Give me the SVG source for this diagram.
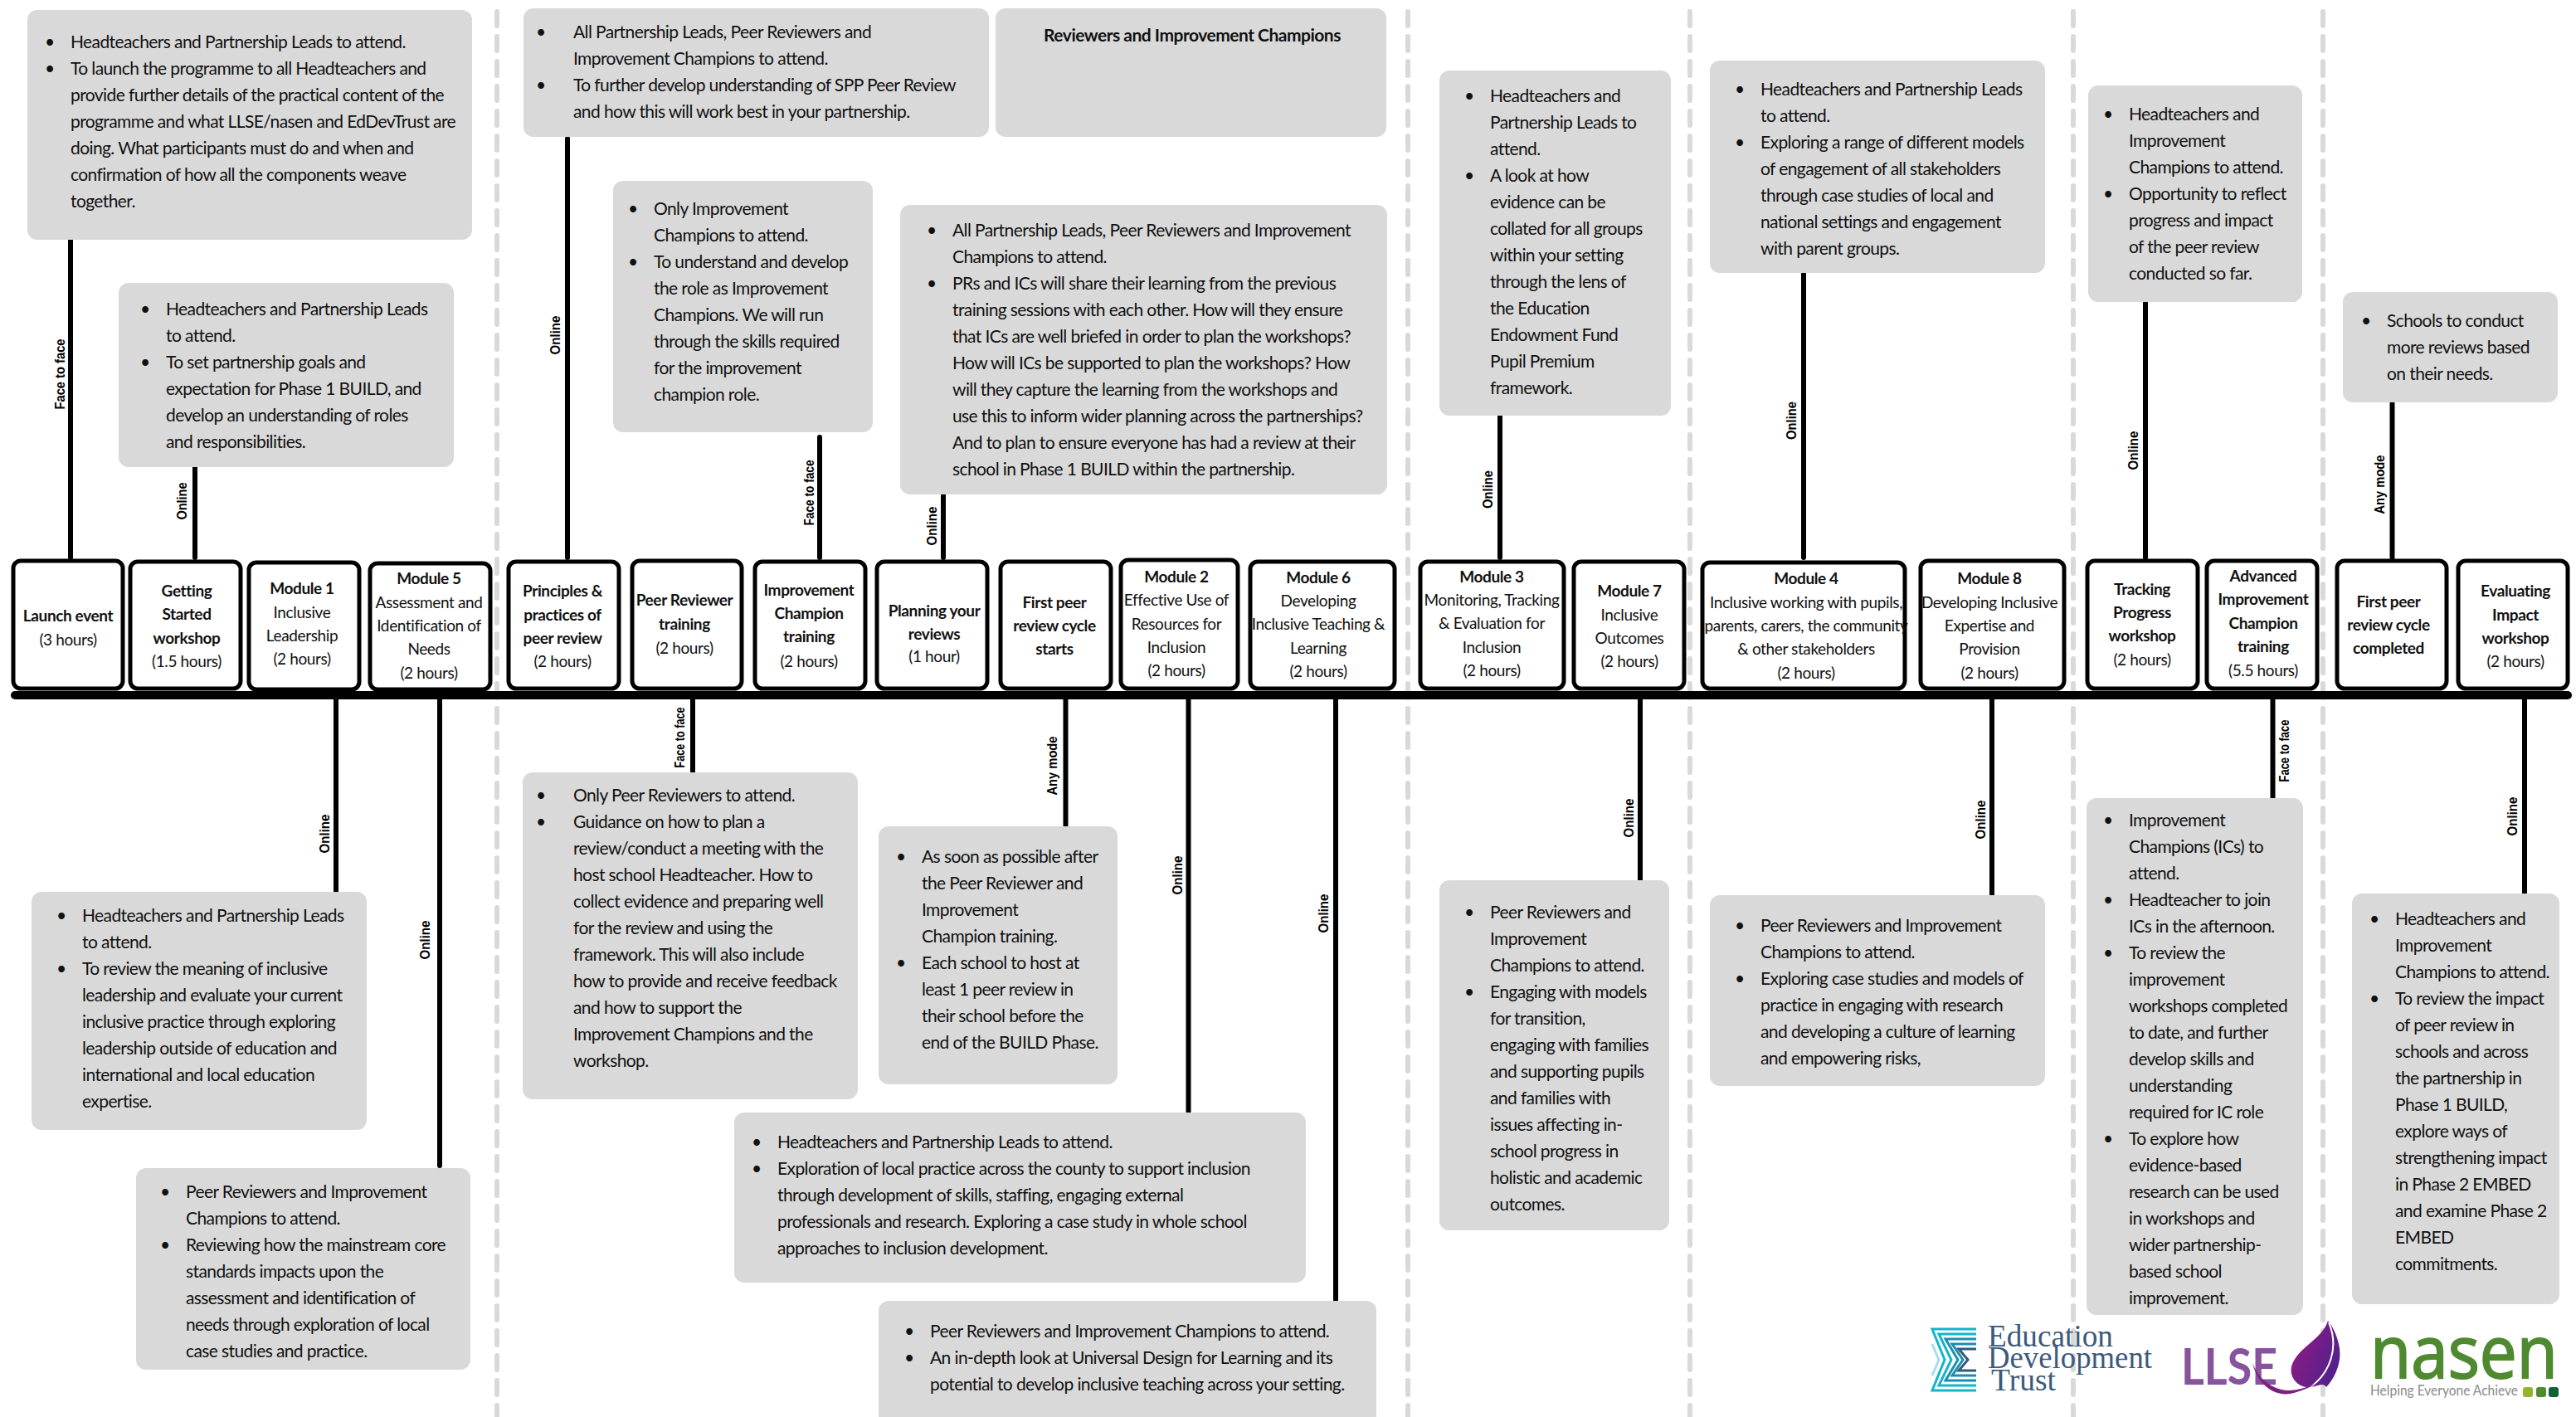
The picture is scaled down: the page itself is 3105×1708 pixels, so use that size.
<svg xmlns="http://www.w3.org/2000/svg" width="3105" height="1708" viewBox="0 0 3105 1708">
<style>
text{font-family:Lato,"Open Sans","Liberation Sans",sans-serif;fill:#111}
.g{fill:#d9d9d9}
.t{font-size:21px;letter-spacing:-.6px;transform:translateY(.5px)}
.u{font-size:21px;text-anchor:middle;transform:translateY(.5px)}
.n{fill:#fff;stroke:#000;stroke-width:5}
.l{font-size:19px;letter-spacing:-.38px;text-anchor:middle;transform:translateY(.5px)}
.h{font-weight:700}
.m{font-family:"Liberation Sans",sans-serif;font-weight:700;font-size:17px;text-anchor:middle;fill:#000}
.c{stroke:#000;stroke-width:6;fill:none;stroke-linecap:round}
.d{stroke:#d9d9d9;stroke-width:6;fill:none;stroke-linecap:round;stroke-dasharray:17 13}
</style>
<defs>
<linearGradient id="leaf" x1="0" y1="0" x2="1" y2="0.6"><stop offset="0" stop-color="#9a1c80"/><stop offset="1" stop-color="#53208c"/></linearGradient>
</defs>
<g id="separators">
<path class="d" d="M599 14V1708"/><path class="d" d="M1697 14V1708"/><path class="d" d="M2037 14V1708"/><path class="d" d="M2499 14V1708"/><path class="d" d="M2800 14V1708"/>
</g>
<g id="connectors">
<path class="c" style="stroke-width:10" d="M18 838H3095"/>
<path class="c" d="M85 289V672M235 563V672M684 167V672M988 527V672M1137 597V672M1808 502V672M2174 330V672M2586 365V672M2883.5 486V672"/>
<path class="c" d="M405 843V1077M530 843V1405M835 843V930M1284.500 843V995M1432.500 843V1340M1610 843V1567M1977 843V1062M2401 843V1078M2739.500 843V962M3043 843V1078"/>
</g>
<g id="connector-labels">
<text class="m" textLength="85" lengthAdjust="spacingAndGlyphs" transform="translate(78 451) rotate(-90)">Face to face</text>
<text class="m" textLength="45" lengthAdjust="spacingAndGlyphs" transform="translate(225 604) rotate(-90)">Online</text>
<text class="m" textLength="47" lengthAdjust="spacingAndGlyphs" transform="translate(675 404) rotate(-90)">Online</text>
<text class="m" textLength="79" lengthAdjust="spacingAndGlyphs" transform="translate(981 594) rotate(-90)">Face to face</text>
<text class="m" textLength="47" lengthAdjust="spacingAndGlyphs" transform="translate(1129 634) rotate(-90)">Online</text>
<text class="m" textLength="46" lengthAdjust="spacingAndGlyphs" transform="translate(1799 590) rotate(-90)">Online</text>
<text class="m" textLength="46" lengthAdjust="spacingAndGlyphs" transform="translate(2165 507) rotate(-90)">Online</text>
<text class="m" textLength="47" lengthAdjust="spacingAndGlyphs" transform="translate(2577 543) rotate(-90)">Online</text>
<text class="m" textLength="71" lengthAdjust="spacingAndGlyphs" transform="translate(2874 584) rotate(-90)">Any mode</text>
<text class="m" textLength="47" lengthAdjust="spacingAndGlyphs" transform="translate(397 1005) rotate(-90)">Online</text>
<text class="m" textLength="47" lengthAdjust="spacingAndGlyphs" transform="translate(518 1133) rotate(-90)">Online</text>
<text class="m" textLength="73" lengthAdjust="spacingAndGlyphs" transform="translate(825 889) rotate(-90)">Face to face</text>
<text class="m" textLength="71" lengthAdjust="spacingAndGlyphs" transform="translate(1274 923) rotate(-90)">Any mode</text>
<text class="m" textLength="47" lengthAdjust="spacingAndGlyphs" transform="translate(1425 1055) rotate(-90)">Online</text>
<text class="m" textLength="47" lengthAdjust="spacingAndGlyphs" transform="translate(1601 1101) rotate(-90)">Online</text>
<text class="m" textLength="47" lengthAdjust="spacingAndGlyphs" transform="translate(1969 986) rotate(-90)">Online</text>
<text class="m" textLength="47" lengthAdjust="spacingAndGlyphs" transform="translate(2393 988) rotate(-90)">Online</text>
<text class="m" textLength="75" lengthAdjust="spacingAndGlyphs" transform="translate(2759 905) rotate(-90)">Face to face</text>
<text class="m" textLength="47" lengthAdjust="spacingAndGlyphs" transform="translate(3034 984) rotate(-90)">Online</text>
</g>
<g id="note-launch"><rect class="g" x="33" y="12" width="536" height="277" rx="12"/>
<text class="u" x="60" y="57">•</text><text class="u" x="60" y="89">•</text>
<text class="t"><tspan x="85" y="57">Headteachers and Partnership Leads to attend.</tspan><tspan x="85" dy="32">To launch the programme to all Headteachers and</tspan><tspan x="85" dy="32">provide further details of the practical content of the</tspan><tspan x="85" dy="32">programme and what LLSE/nasen and EdDevTrust are</tspan><tspan x="85" dy="32">doing. What participants must do and when and</tspan><tspan x="85" dy="32">confirmation of how all the components weave</tspan><tspan x="85" dy="32">together.</tspan></text></g>
<g id="note-getting-started"><rect class="g" x="143" y="341" width="404" height="222" rx="12"/>
<text class="u" x="175" y="379">•</text><text class="u" x="175" y="443">•</text>
<text class="t"><tspan x="200" y="379">Headteachers and Partnership Leads</tspan><tspan x="200" dy="32">to attend.</tspan><tspan x="200" dy="32">To set partnership goals and</tspan><tspan x="200" dy="32">expectation for Phase 1 BUILD, and</tspan><tspan x="200" dy="32">develop an understanding of roles</tspan><tspan x="200" dy="32">and responsibilities.</tspan></text></g>
<g id="note-principles"><rect class="g" x="631" y="10" width="561" height="155" rx="12"/>
<text class="u" x="652" y="45">•</text><text class="u" x="652" y="109">•</text>
<text class="t"><tspan x="691" y="45">All Partnership Leads, Peer Reviewers and</tspan><tspan x="691" dy="32">Improvement Champions to attend.</tspan><tspan x="691" dy="32">To further develop understanding of SPP Peer Review</tspan><tspan x="691" dy="32">and how this will work best in your partnership.</tspan></text></g>
<g id="note-reviewers"><rect class="g" x="1200" y="10" width="471" height="155" rx="12"/>
<text class="u h" x="1437" y="49" style="letter-spacing:-.5px">Reviewers and Improvement Champions</text></g>
<g id="note-improvement"><rect class="g" x="739" y="218" width="313" height="303" rx="12"/>
<text class="u" x="763" y="258">•</text><text class="u" x="763" y="322">•</text>
<text class="t"><tspan x="788" y="258">Only Improvement</tspan><tspan x="788" dy="32">Champions to attend.</tspan><tspan x="788" dy="32">To understand and develop</tspan><tspan x="788" dy="32">the role as Improvement</tspan><tspan x="788" dy="32">Champions. We will run</tspan><tspan x="788" dy="32">through the skills required</tspan><tspan x="788" dy="32">for the improvement</tspan><tspan x="788" dy="32">champion role.</tspan></text></g>
<g id="note-planning"><rect class="g" x="1085" y="247" width="587" height="349" rx="12"/>
<text class="u" x="1123" y="284">•</text><text class="u" x="1123" y="348">•</text>
<text class="t"><tspan x="1148" y="284">All Partnership Leads, Peer Reviewers and Improvement</tspan><tspan x="1148" dy="32">Champions to attend.</tspan><tspan x="1148" dy="32">PRs and ICs will share their learning from the previous</tspan><tspan x="1148" dy="32">training sessions with each other. How will they ensure</tspan><tspan x="1148" dy="32">that ICs are well briefed in order to plan the workshops?</tspan><tspan x="1148" dy="32">How will ICs be supported to plan the workshops? How</tspan><tspan x="1148" dy="32">will they capture the learning from the workshops and</tspan><tspan x="1148" dy="32">use this to inform wider planning across the partnerships?</tspan><tspan x="1148" dy="32">And to plan to ensure everyone has had a review at their</tspan><tspan x="1148" dy="32">school in Phase 1 BUILD within the partnership.</tspan></text></g>
<g id="note-module3"><rect class="g" x="1735" y="85" width="279" height="416" rx="12"/>
<text class="u" x="1771" y="122">•</text><text class="u" x="1771" y="218">•</text>
<text class="t"><tspan x="1796" y="122">Headteachers and</tspan><tspan x="1796" dy="32">Partnership Leads to</tspan><tspan x="1796" dy="32">attend.</tspan><tspan x="1796" dy="32">A look at how</tspan><tspan x="1796" dy="32">evidence can be</tspan><tspan x="1796" dy="32">collated for all groups</tspan><tspan x="1796" dy="32">within your setting</tspan><tspan x="1796" dy="32">through the lens of</tspan><tspan x="1796" dy="32">the Education</tspan><tspan x="1796" dy="32">Endowment Fund</tspan><tspan x="1796" dy="32">Pupil Premium</tspan><tspan x="1796" dy="32">framework.</tspan></text></g>
<g id="note-module4"><rect class="g" x="2061" y="73" width="404" height="256" rx="12"/>
<text class="u" x="2097" y="114">•</text><text class="u" x="2097" y="178">•</text>
<text class="t"><tspan x="2122" y="114">Headteachers and Partnership Leads</tspan><tspan x="2122" dy="32">to attend.</tspan><tspan x="2122" dy="32">Exploring a range of different models</tspan><tspan x="2122" dy="32">of engagement of all stakeholders</tspan><tspan x="2122" dy="32">through case studies of local and</tspan><tspan x="2122" dy="32">national settings and engagement</tspan><tspan x="2122" dy="32">with parent groups.</tspan></text></g>
<g id="note-tracking"><rect class="g" x="2517" y="103" width="258" height="261" rx="12"/>
<text class="u" x="2541" y="144">•</text><text class="u" x="2541" y="240">•</text>
<text class="t"><tspan x="2566" y="144">Headteachers and</tspan><tspan x="2566" dy="32">Improvement</tspan><tspan x="2566" dy="32">Champions to attend.</tspan><tspan x="2566" dy="32">Opportunity to reflect</tspan><tspan x="2566" dy="32">progress and impact</tspan><tspan x="2566" dy="32">of the peer review</tspan><tspan x="2566" dy="32">conducted so far.</tspan></text></g>
<g id="note-completed"><rect class="g" x="2824" y="352" width="259" height="133" rx="12"/>
<text class="u" x="2852" y="393">•</text>
<text class="t"><tspan x="2877" y="393">Schools to conduct</tspan><tspan x="2877" dy="32">more reviews based</tspan><tspan x="2877" dy="32">on their needs.</tspan></text></g>
<g id="note-module1"><rect class="g" x="38" y="1075" width="404" height="287" rx="12"/>
<text class="u" x="74" y="1110">•</text><text class="u" x="74" y="1174">•</text>
<text class="t"><tspan x="99" y="1110">Headteachers and Partnership Leads</tspan><tspan x="99" dy="32">to attend.</tspan><tspan x="99" dy="32">To review the meaning of inclusive</tspan><tspan x="99" dy="32">leadership and evaluate your current</tspan><tspan x="99" dy="32">inclusive practice through exploring</tspan><tspan x="99" dy="32">leadership outside of education and</tspan><tspan x="99" dy="32">international and local education</tspan><tspan x="99" dy="32">expertise.</tspan></text></g>
<g id="note-module5"><rect class="g" x="164" y="1408" width="403" height="243" rx="12"/>
<text class="u" x="199" y="1443">•</text><text class="u" x="199" y="1507">•</text>
<text class="t"><tspan x="224" y="1443">Peer Reviewers and Improvement</tspan><tspan x="224" dy="32">Champions to attend.</tspan><tspan x="224" dy="32">Reviewing how the mainstream core</tspan><tspan x="224" dy="32">standards impacts upon the</tspan><tspan x="224" dy="32">assessment and identification of</tspan><tspan x="224" dy="32">needs through exploration of local</tspan><tspan x="224" dy="32">case studies and practice.</tspan></text></g>
<g id="note-peer-reviewer"><rect class="g" x="630" y="931" width="404" height="394" rx="12"/>
<text class="u" x="652" y="965">•</text><text class="u" x="652" y="997">•</text>
<text class="t"><tspan x="691" y="965">Only Peer Reviewers to attend.</tspan><tspan x="691" dy="32">Guidance on how to plan a</tspan><tspan x="691" dy="32">review/conduct a meeting with the</tspan><tspan x="691" dy="32">host school Headteacher. How to</tspan><tspan x="691" dy="32">collect evidence and preparing well</tspan><tspan x="691" dy="32">for the review and using the</tspan><tspan x="691" dy="32">framework. This will also include</tspan><tspan x="691" dy="32">how to provide and receive feedback</tspan><tspan x="691" dy="32">and how to support the</tspan><tspan x="691" dy="32">Improvement Champions and the</tspan><tspan x="691" dy="32">workshop.</tspan></text></g>
<g id="note-first-peer"><rect class="g" x="1059" y="996" width="288" height="311" rx="12"/>
<text class="u" x="1086" y="1039">•</text><text class="u" x="1086" y="1167">•</text>
<text class="t"><tspan x="1111" y="1039">As soon as possible after</tspan><tspan x="1111" dy="32">the Peer Reviewer and</tspan><tspan x="1111" dy="32">Improvement</tspan><tspan x="1111" dy="32">Champion training.</tspan><tspan x="1111" dy="32">Each school to host at</tspan><tspan x="1111" dy="32">least 1 peer review in</tspan><tspan x="1111" dy="32">their school before the</tspan><tspan x="1111" dy="32">end of the BUILD Phase.</tspan></text></g>
<g id="note-module2"><rect class="g" x="885" y="1341" width="689" height="205" rx="12"/>
<text class="u" x="912" y="1383">•</text><text class="u" x="912" y="1415">•</text>
<text class="t"><tspan x="937" y="1383">Headteachers and Partnership Leads to attend.</tspan><tspan x="937" dy="32">Exploration of local practice across the county to support inclusion</tspan><tspan x="937" dy="32">through development of skills, staffing, engaging external</tspan><tspan x="937" dy="32">professionals and research. Exploring a case study in whole school</tspan><tspan x="937" dy="32">approaches to inclusion development.</tspan></text></g>
<g id="note-module6"><rect class="g" x="1059" y="1568" width="600" height="150" rx="12"/>
<text class="u" x="1096" y="1611">•</text><text class="u" x="1096" y="1643">•</text>
<text class="t"><tspan x="1121" y="1611">Peer Reviewers and Improvement Champions to attend.</tspan><tspan x="1121" dy="32">An in-depth look at Universal Design for Learning and its</tspan><tspan x="1121" dy="32">potential to develop inclusive teaching across your setting.</tspan></text></g>
<g id="note-module7"><rect class="g" x="1735" y="1061" width="277" height="422" rx="12"/>
<text class="u" x="1771" y="1106">•</text><text class="u" x="1771" y="1202">•</text>
<text class="t"><tspan x="1796" y="1106">Peer Reviewers and</tspan><tspan x="1796" dy="32">Improvement</tspan><tspan x="1796" dy="32">Champions to attend.</tspan><tspan x="1796" dy="32">Engaging with models</tspan><tspan x="1796" dy="32">for transition,</tspan><tspan x="1796" dy="32">engaging with families</tspan><tspan x="1796" dy="32">and supporting pupils</tspan><tspan x="1796" dy="32">and families with</tspan><tspan x="1796" dy="32">issues affecting in-</tspan><tspan x="1796" dy="32">school progress in</tspan><tspan x="1796" dy="32">holistic and academic</tspan><tspan x="1796" dy="32">outcomes.</tspan></text></g>
<g id="note-module8"><rect class="g" x="2061" y="1079" width="404" height="230" rx="12"/>
<text class="u" x="2097" y="1122">•</text><text class="u" x="2097" y="1186">•</text>
<text class="t"><tspan x="2122" y="1122">Peer Reviewers and Improvement</tspan><tspan x="2122" dy="32">Champions to attend.</tspan><tspan x="2122" dy="32">Exploring case studies and models of</tspan><tspan x="2122" dy="32">practice in engaging with research</tspan><tspan x="2122" dy="32">and developing a culture of learning</tspan><tspan x="2122" dy="32">and empowering risks,</tspan></text></g>
<g id="note-advanced"><rect class="g" x="2515" y="962" width="261" height="623" rx="12"/>
<text class="u" x="2541" y="995">•</text><text class="u" x="2541" y="1091">•</text><text class="u" x="2541" y="1155">•</text><text class="u" x="2541" y="1379">•</text>
<text class="t"><tspan x="2566" y="995">Improvement</tspan><tspan x="2566" dy="32">Champions (ICs) to</tspan><tspan x="2566" dy="32">attend.</tspan><tspan x="2566" dy="32">Headteacher to join</tspan><tspan x="2566" dy="32">ICs in the afternoon.</tspan><tspan x="2566" dy="32">To review the</tspan><tspan x="2566" dy="32">improvement</tspan><tspan x="2566" dy="32">workshops completed</tspan><tspan x="2566" dy="32">to date, and further</tspan><tspan x="2566" dy="32">develop skills and</tspan><tspan x="2566" dy="32">understanding</tspan><tspan x="2566" dy="32">required for IC role</tspan><tspan x="2566" dy="32">To explore how</tspan><tspan x="2566" dy="32">evidence-based</tspan><tspan x="2566" dy="32">research can be used</tspan><tspan x="2566" dy="32">in workshops and</tspan><tspan x="2566" dy="32">wider partnership-</tspan><tspan x="2566" dy="32">based school</tspan><tspan x="2566" dy="32">improvement.</tspan></text></g>
<g id="note-evaluating"><rect class="g" x="2835" y="1077" width="250" height="495" rx="12"/>
<text class="u" x="2862" y="1114">•</text><text class="u" x="2862" y="1210">•</text>
<text class="t"><tspan x="2887" y="1114">Headteachers and</tspan><tspan x="2887" dy="32">Improvement</tspan><tspan x="2887" dy="32">Champions to attend.</tspan><tspan x="2887" dy="32">To review the impact</tspan><tspan x="2887" dy="32">of peer review in</tspan><tspan x="2887" dy="32">schools and across</tspan><tspan x="2887" dy="32">the partnership in</tspan><tspan x="2887" dy="32">Phase 1 BUILD,</tspan><tspan x="2887" dy="32">explore ways of</tspan><tspan x="2887" dy="32">strengthening impact</tspan><tspan x="2887" dy="32">in Phase 2 EMBED</tspan><tspan x="2887" dy="32">and examine Phase 2</tspan><tspan x="2887" dy="32">EMBED</tspan><tspan x="2887" dy="32">commitments.</tspan></text></g>
<g id="launch-event"><rect class="n" x="16" y="676" width="132" height="154" rx="9"/><text class="l h" x="82" y="748">Launch event</text><text class="l" x="82" y="777">(3 hours)</text></g>
<g id="getting-started"><rect class="n" x="157" y="677" width="133" height="153" rx="9"/><text class="l h"><tspan x="225" y="718">Getting</tspan><tspan x="225" dy="28">Started</tspan><tspan x="225" dy="29">workshop</tspan></text><text class="l" x="225" y="803">(1.5 hours)</text></g>
<g id="module-1"><rect class="n" x="300" y="678" width="133" height="153" rx="9"/><text class="l h" x="364" y="715">Module 1</text><text class="l"><tspan x="364" y="744">Inclusive</tspan><tspan x="364" dy="28">Leadership</tspan><tspan x="364" dy="28">(2 hours)</tspan></text></g>
<g id="module-5"><rect class="n" x="446" y="679" width="145" height="152" rx="9"/><text class="l h" x="517" y="703">Module 5</text><text class="l"><tspan x="517" y="732">Assessment and</tspan><tspan x="517" dy="28">Identification of</tspan><tspan x="517" dy="28">Needs</tspan><tspan x="517" dy="29">(2 hours)</tspan></text></g>
<g id="principles"><rect class="n" x="613" y="677" width="133" height="153" rx="9"/><text class="l h"><tspan x="678" y="718">Principles &amp;</tspan><tspan x="678" dy="29">practices of</tspan><tspan x="678" dy="28">peer review</tspan></text><text class="l" x="678" y="803">(2 hours)</text></g>
<g id="peer-reviewer"><rect class="n" x="762" y="676" width="132" height="154" rx="9"/><text class="l h"><tspan x="825" y="729">Peer Reviewer</tspan><tspan x="825" dy="29">training</tspan></text><text class="l" x="825" y="787">(2 hours)</text></g>
<g id="improvement-champion"><rect class="n" x="910" y="677" width="133" height="153" rx="9"/><text class="l h"><tspan x="975" y="717">Improvement</tspan><tspan x="975" dy="28">Champion</tspan><tspan x="975" dy="28">training</tspan></text><text class="l" x="975" y="803">(2 hours)</text></g>
<g id="planning"><rect class="n" x="1057" y="677" width="133" height="153" rx="9"/><text class="l h"><tspan x="1126" y="742">Planning your</tspan><tspan x="1126" dy="28">reviews</tspan></text><text class="l" x="1126" y="797">(1 hour)</text></g>
<g id="first-peer-starts"><rect class="n" x="1206" y="677" width="133" height="153" rx="9"/><text class="l h"><tspan x="1271" y="732">First peer</tspan><tspan x="1271" dy="28">review cycle</tspan><tspan x="1271" dy="28">starts</tspan></text></g>
<g id="module-2"><rect class="n" x="1351" y="675" width="141" height="155" rx="9"/><text class="l h" x="1418" y="701">Module 2</text><text class="l"><tspan x="1418" y="729">Effective Use of</tspan><tspan x="1418" dy="29">Resources for</tspan><tspan x="1418" dy="28">Inclusion</tspan><tspan x="1418" dy="28">(2 hours)</tspan></text></g>
<g id="module-6"><rect class="n" x="1507" y="677" width="174" height="153" rx="9"/><text class="l h" x="1589" y="702">Module 6</text><text class="l"><tspan x="1589" y="730">Developing</tspan><tspan x="1589" dy="28">Inclusive Teaching &amp;</tspan><tspan x="1589" dy="29">Learning</tspan><tspan x="1589" dy="28">(2 hours)</tspan></text></g>
<g id="module-3"><rect class="n" x="1712" y="677" width="173" height="153" rx="9"/><text class="l h" x="1798" y="701">Module 3</text><text class="l"><tspan x="1798" y="729">Monitoring, Tracking</tspan><tspan x="1798" dy="28">&amp; Evaluation for</tspan><tspan x="1798" dy="29">Inclusion</tspan><tspan x="1798" dy="28">(2 hours)</tspan></text></g>
<g id="module-7"><rect class="n" x="1897" y="677" width="133" height="153" rx="9"/><text class="l h" x="1964" y="718">Module 7</text><text class="l"><tspan x="1964" y="747">Inclusive</tspan><tspan x="1964" dy="28">Outcomes</tspan><tspan x="1964" dy="28">(2 hours)</tspan></text></g>
<g id="module-4"><rect class="n" x="2052" y="678" width="244" height="152" rx="9"/><text class="l h" x="2177" y="703">Module 4</text><text class="l"><tspan x="2177" y="732">Inclusive working with pupils,</tspan><tspan x="2177" dy="28">parents, carers, the community</tspan><tspan x="2177" dy="28">&amp; other stakeholders</tspan><tspan x="2177" dy="29">(2 hours)</tspan></text></g>
<g id="module-8"><rect class="n" x="2315" y="676" width="173" height="154" rx="9"/><text class="l h" x="2398" y="703">Module 8</text><text class="l"><tspan x="2398" y="732">Developing Inclusive</tspan><tspan x="2398" dy="28">Expertise and</tspan><tspan x="2398" dy="28">Provision</tspan><tspan x="2398" dy="29">(2 hours)</tspan></text></g>
<g id="tracking-progress"><rect class="n" x="2516" y="676" width="133" height="154" rx="9"/><text class="l h"><tspan x="2582" y="716">Tracking</tspan><tspan x="2582" dy="28">Progress</tspan><tspan x="2582" dy="28">workshop</tspan></text><text class="l" x="2582" y="801">(2 hours)</text></g>
<g id="advanced-improvement"><rect class="n" x="2660" y="676" width="133" height="154" rx="9"/><text class="l h"><tspan x="2728" y="700">Advanced</tspan><tspan x="2728" dy="28">Improvement</tspan><tspan x="2728" dy="29">Champion</tspan><tspan x="2728" dy="28">training</tspan></text><text class="l" x="2728" y="814">(5.5 hours)</text></g>
<g id="first-peer-completed"><rect class="n" x="2817" y="676" width="132" height="154" rx="9"/><text class="l h"><tspan x="2879" y="731">First peer</tspan><tspan x="2879" dy="28">review cycle</tspan><tspan x="2879" dy="28">completed</tspan></text></g>
<g id="evaluating-impact"><rect class="n" x="2963" y="676" width="132" height="154" rx="9"/><text class="l h"><tspan x="3032" y="718">Evaluating</tspan><tspan x="3032" dy="29">Impact</tspan><tspan x="3032" dy="28">workshop</tspan></text><text class="l" x="3032" y="803">(2 hours)</text></g>
<g id="logo-edt" fill="none" stroke-width="3">
<path stroke="#14b4cb" d="M2382 1602H2329L2344 1639L2329 1676H2382M2382 1608H2337L2352 1639L2337 1670H2382"/>
<path stroke="#1b8fb0" d="M2382 1614H2345L2360 1639L2345 1664H2382M2382 1620H2353L2366 1639L2353 1658H2382"/>
<path stroke="#315a7d" d="M2382 1626H2361L2372 1639L2361 1652H2382"/>
<path stroke="#a9dde6" d="M2329 1620L2337 1639L2329 1658"/>
<text x="2396" y="1623" font-size="38" textLength="151" lengthAdjust="spacingAndGlyphs" style="font-family:'Liberation Serif',serif;fill:#3c5a7a">Education</text>
<text x="2396" y="1649" font-size="38" textLength="198" lengthAdjust="spacingAndGlyphs" style="font-family:'Liberation Serif',serif;fill:#3c5a7a">Development</text>
<text x="2400" y="1676" font-size="38" textLength="78" lengthAdjust="spacingAndGlyphs" style="font-family:'Liberation Serif',serif;fill:#3c5a7a">Trust</text>
</g>
<g id="logo-llse">
<text x="2629" y="1669" font-size="62" textLength="116" lengthAdjust="spacingAndGlyphs" style="fill:#87539d;font-weight:700">LLSE</text>
<path fill="url(#leaf)" d="M2806 1592C2800 1612 2775 1622 2765 1640C2756 1655 2766 1670 2780 1672C2790 1673 2800 1665 2804 1672C2815 1660 2824 1640 2819 1620C2816 1607 2811 1598 2806 1592Z"/>
<path fill="none" stroke="#fff" stroke-width="2" d="M2807 1594C2820 1625 2808 1655 2785 1672"/>
<path fill="#7d1f7f" d="M2715 1643C2722 1672 2745 1685 2765 1679C2778 1675 2785 1672 2792 1667C2778 1674 2762 1678 2750 1675C2732 1670 2722 1660 2715 1643Z"/>
</g>
<g id="logo-nasen">
<text x="2857" y="1661" font-size="88" textLength="226" lengthAdjust="spacingAndGlyphs" style="font-family:'Open Sans',sans-serif;fill:#4f8a30;stroke:#4f8a30;stroke-width:2">nasen</text>
<text x="2857" y="1682" font-size="18" textLength="178" lengthAdjust="spacingAndGlyphs" style="fill:#8a8a8a">Helping Everyone Achieve</text>
<rect x="3041" y="1672" width="12" height="12" rx="3" fill="#8fb52c"/><rect x="3057" y="1672" width="12" height="12" rx="3" fill="#4f8a30"/><rect x="3072" y="1672" width="12" height="12" rx="3" fill="#0f6138"/>
</g>
</svg>
